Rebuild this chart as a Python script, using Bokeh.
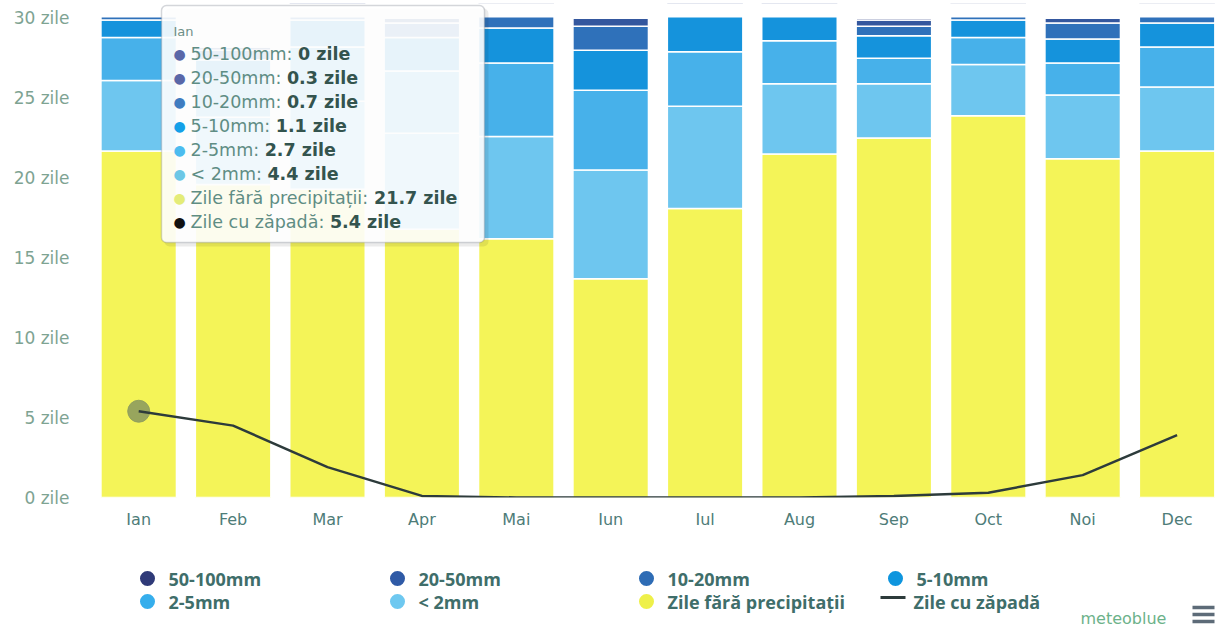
from bokeh.plotting import figure
from bokeh.models import ColumnDataSource, Range1d, FixedTicker, BoxAnnotation, Label
from bokeh.layouts import column
from bokeh.core.properties import value
from bokeh.embed import file_html
from bokeh.resources import INLINE

# ---------------- data ----------------
months = ["Ian", "Feb", "Mar", "Apr", "Mai", "Iun", "Iul", "Aug", "Sep", "Oct", "Noi", "Dec"]
dry      = [21.7, 19.6, 19.3, 16.8, 16.2, 13.7, 18.1, 21.5, 22.5, 23.9, 21.2, 21.7]
lt2      = [4.4, 4.2, 5.5, 6.0, 6.4, 6.8, 6.4, 4.4, 3.4, 3.2, 4.0, 4.0]
mm2_5    = [2.7, 2.4, 3.4, 3.9, 4.6, 5.0, 3.4, 2.7, 1.6, 1.7, 2.0, 2.5]
mm5_10   = [1.1, 1.2, 1.7, 2.1, 2.2, 2.5, 2.3, 1.6, 1.4, 1.1, 1.5, 1.5]
mm10_20  = [0.7, 0.6, 0.8, 0.9, 1.1, 1.5, 0.6, 0.6, 0.6, 0.7, 1.0, 0.8]
mm20_50  = [0.3, 0.2, 0.3, 0.3, 0.4, 0.5, 0.2, 0.2, 0.4, 0.3, 0.3, 0.4]
mm50_100 = [0.0, 0.0, 0.0, 0.0, 0.1, 0.0, 0.0, 0.0, 0.1, 0.1, 0.0, 0.1]
snow     = [5.4, 4.5, 1.9, 0.1, 0.0, 0.0, 0.0, 0.0, 0.1, 0.3, 1.4, 3.9]

y_ticks = [0, 5, 10, 15, 20, 25, 30]
y_unit = "zile"
y_axis_max = 30.05   # the chart's axis maximum (bars are clipped here)

# stack order bottom -> top
series_keys = ["dry", "lt2", "mm2_5", "mm5_10", "mm10_20", "mm20_50", "mm50_100"]
series_names = ["Zile fără precipitații", "< 2mm", "2-5mm", "5-10mm", "10-20mm", "20-50mm", "50-100mm"]
snow_name = "Zile cu zăpadă"
bar_colors = ["#f4f458", "#6ec6ef", "#47b1ea", "#1593dc", "#2f71ba", "#34579e", "#2e3c80"]

x = list(range(len(months)))
source = ColumnDataSource(dict(x=x, dry=dry, lt2=lt2, mm2_5=mm2_5, mm5_10=mm5_10,
                               mm10_20=mm10_20, mm20_50=mm20_50, mm50_100=mm50_100))

# ---------------- layout constants (page pixels) ----------------
FIG_W, FIG_H = 1218, 538
FRAME_L, FRAME_B = 91, 497
PLOT_TOP = 17            # where y_axis_max sits
FRAME_T = 3              # frame extends a bit higher so the tooltip isn't clipped
X0 = -0.5
CAT_PX = 94.4
X1 = X0 + (FIG_W - FRAME_L) / CAT_PX
px_per_y = (FRAME_B - PLOT_TOP) / y_axis_max
Y1 = (FRAME_B - FRAME_T) / px_per_y


def sx(page_x):
    return X0 + (page_x - FRAME_L) / CAT_PX


def sy(page_y):
    return (FRAME_B - page_y) / px_per_y


p = figure(width=FIG_W, height=FIG_H, x_range=Range1d(X0, X1), y_range=Range1d(0, Y1),
           output_backend="svg", toolbar_location=None,
           min_border_left=FRAME_L, min_border_right=0, min_border_top=FRAME_T,
           min_border_bottom=FIG_H - FRAME_B)

p.vbar_stack(series_keys, x="x", width=0.8, color=bar_colors, source=source,
             line_color="white", line_width=1.5)
# plot-area clipping at the axis maximum
p.add_layout(BoxAnnotation(bottom=y_axis_max, fill_color="white", fill_alpha=1.0,
                           line_color=None))
p.scatter(x=[x[0]], y=[snow[0]], size=22, color="#8e9c5e", alpha=0.9)
p.line(x=x, y=snow, line_color="#2d3b3b", line_width=2.5)

p.grid.grid_line_color = None
p.outline_line_color = None
p.background_fill_color = "white"
for ax in (p.xaxis[0], p.yaxis[0]):
    ax.axis_line_color = None
    ax.major_tick_line_color = None
    ax.minor_tick_line_color = None
    ax.major_tick_out = 0
    ax.major_tick_in = 0
    ax.major_label_text_font = "DejaVu Sans"
p.xaxis.ticker = FixedTicker(ticks=x)
p.xaxis.major_label_overrides = {i: m for i, m in zip(x, months)}
p.xaxis.major_label_text_font_size = "16px"
p.xaxis.major_label_text_color = "#4e7c78"
p.xaxis.major_label_standoff = 12
p.yaxis.ticker = FixedTicker(ticks=y_ticks)
p.yaxis.major_label_overrides = {t: f"{t} {y_unit}" for t in y_ticks}
p.yaxis.major_label_text_font_size = "17px"
p.yaxis.major_label_text_color = "#7ea392"
p.yaxis.major_label_standoff = 22

# ---------------- tooltip (Ian) ----------------
tip_rows = ["50-100mm", "20-50mm", "10-20mm", "5-10mm", "2-5mm", "< 2mm",
            "Zile fără precipitații", "Zile cu zăpadă"]
tip_vals = [mm50_100[0], mm20_50[0], mm10_20[0], mm5_10[0], mm2_5[0], lt2[0], dry[0], snow[0]]
tip_dots = ["#5a67a8", "#5a67a8", "#3f7cc0", "#14a0e8", "#4cbcef", "#6cc7e6", "#e4ec78", "#111111"]

W = {'-': 361, 'm': 974, ':': 337, ' ': 318, '<': 838, 'Z': 685, 'i': 278, 'l': 278,
     'e': 615, 'f': 352, 'ă': 613, 'r': 411, 'p': 635, 'c': 550, 't': 392, 'a': 613,
     'ț': 392, 'u': 634, 'z': 525, 'd': 635, '.': 318}


def text_w(s, size):
    return sum(W.get(ch, 636) for ch in s) * size / 1000.0


# soft shadow + box
p.add_layout(BoxAnnotation(left=sx(164), right=sx(488), top=sy(8), bottom=sy(246),
                           fill_color="#000000", fill_alpha=0.08, line_color=None,
                           border_radius=5))
p.add_layout(BoxAnnotation(left=sx(161), right=sx(484), top=sy(5), bottom=sy(242),
                           fill_color="white", fill_alpha=0.9, line_color="#6f7684",
                           line_width=1.5, border_radius=5))
p.add_layout(Label(x=sx(173), y=sy(31), text=months[0], text_font="DejaVu Sans",
                   text_font_size="13px", text_color="#6d8f88", text_baseline="middle"))
TS = 17.5
for i, (nm, v, dc) in enumerate(zip(tip_rows, tip_vals, tip_dots)):
    py = 53 + 24 * i
    p.add_layout(Label(x=sx(179), y=sy(py), text="●", text_font="DejaVu Sans",
                       text_font_size="14px", text_color=dc, text_align="center",
                       text_baseline="middle"))
    name_txt = nm + ": "
    p.add_layout(Label(x=sx(190), y=sy(py), text=name_txt, text_font="DejaVu Sans",
                       text_font_size=f"{TS}px", text_color="#5f8d84", text_baseline="middle"))
    p.add_layout(Label(x=sx(190 + text_w(name_txt, TS)), y=sy(py), text=f"{v:g} zile",
                       text_font="DejaVu Sans", text_font_style="bold",
                       text_font_size=f"{TS}px", text_color="#34544e", text_baseline="middle"))

# ---------------- legend figure (frame aligned with main frame: page x = data x) ----------------
LG_H = 627 - FIG_H
lg = figure(width=FIG_W, height=LG_H, x_range=Range1d(FRAME_L, FIG_W), y_range=Range1d(LG_H, 0),
            output_backend="svg", toolbar_location=None, min_border=0,
            min_border_left=FRAME_L, min_border_right=0,
            x_axis_location=None, y_axis_location=None)
lg.outline_line_color = None
lg.grid.visible = False

leg_names = ["50-100mm", "20-50mm", "10-20mm", "5-10mm", "2-5mm", "< 2mm",
             "Zile fără precipitații", snow_name]
leg_colors = ["#2f3a78", "#2f5aa6", "#2e6cb5", "#0e95de", "#36aeec", "#6ec8f0", "#eef04a", "#2d3b3b"]
col_x = [147, 397, 646, 895]
row_y = [40, 63]
cx, cy, cc = [], [], []
tx, ty = [], []
for k, (nm, c) in enumerate(zip(leg_names, leg_colors)):
    r, cidx = divmod(k, 4)
    if nm == snow_name:
        lg.segment(x0=[col_x[cidx] - 15], x1=[col_x[cidx] + 10], y0=[row_y[r] - 4],
                   y1=[row_y[r] - 4], line_color=c, line_width=3)
        tx.append(col_x[cidx] + 18)
    else:
        cx.append(col_x[cidx]); cy.append(row_y[r]); cc.append(c)
        tx.append(col_x[cidx] + 21)
    ty.append(row_y[r])
lg.scatter(x=cx, y=cy, size=15, fill_color=cc, line_color=None)
lg.text(x=tx, y=ty, text=leg_names, text_font=value("Open Sans"), text_font_style="bold",
        text_font_size="18px", text_color="#3f6e6a", text_baseline="middle")

lg.text(x=[1080], y=[80], text=["meteoblue"], text_font=value("DejaVu Sans"),
        text_font_size="16px", text_color="#6cb28a", text_baseline="middle")
lg.segment(x0=[1192, 1192, 1192], x1=[1214, 1214, 1214], y0=[69, 76, 83], y1=[69, 76, 83],
           line_color="#5d6b78", line_width=3.5)

layout = column(p, lg, spacing=0)
open("out.html", "w").write(file_html(layout, INLINE))
